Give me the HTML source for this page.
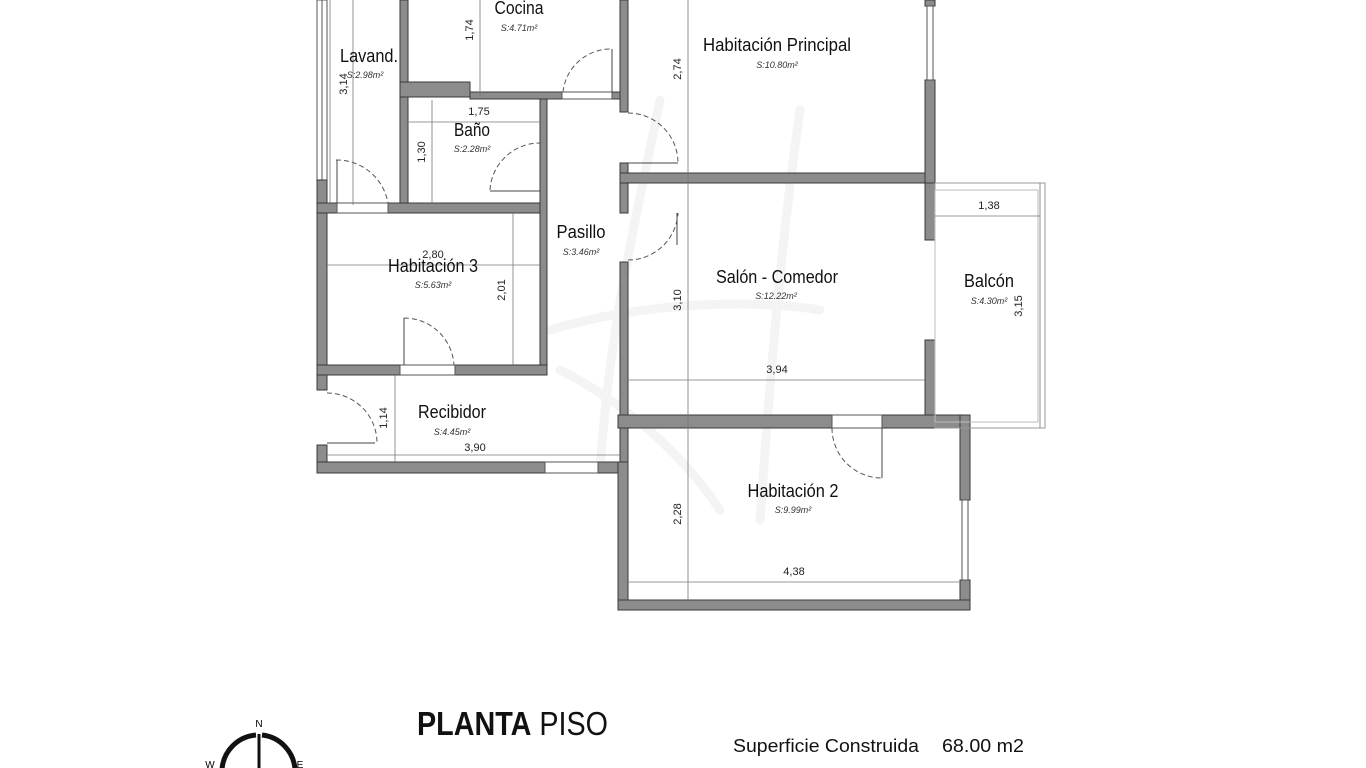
<!DOCTYPE html>
<html><head><meta charset="utf-8"><style>
html,body{margin:0;padding:0;background:#fff;width:1366px;height:768px;overflow:hidden}
svg{display:block}
.w{fill:#8c8c8c;stroke:#3a3a3a;stroke-width:1}
.rm{font-family:"Liberation Sans",sans-serif;font-size:18px;fill:#111;text-anchor:middle}
.ar{font-family:"Liberation Sans",sans-serif;font-size:9px;font-style:italic;fill:#333;text-anchor:middle}
.dm{font-family:"Liberation Sans",sans-serif;font-size:11px;fill:#222;text-anchor:middle}
.dl{stroke:#777;stroke-width:0.8;fill:none}
.dr{stroke:#555;stroke-width:1;fill:none;stroke-dasharray:5,3}
.wn{fill:#fff;stroke:#555;stroke-width:1}
</style></head><body>
<svg width="1366" height="768" viewBox="0 0 1366 768" xmlns="http://www.w3.org/2000/svg">
<g stroke="#f4f4f4" stroke-width="9" fill="none" stroke-linecap="round">
<path d="M660 100 C640 200 610 320 600 470"/>
<path d="M800 110 C780 250 770 380 760 520"/>
<path d="M550 330 C650 300 760 300 820 310"/>
<path d="M560 370 C620 400 680 450 720 510"/>
</g>
<rect class="wn" x="317" y="0" width="10" height="180"/>
<line x1="322" y1="0" x2="322" y2="180" stroke="#555"/>
<g class="w">
<rect x="317" y="180" width="10" height="210"/>
<rect x="317" y="445" width="10" height="28"/>
<rect x="317" y="462" width="228" height="11"/>
<rect x="598" y="462" width="30" height="11"/>
<rect x="400" y="0" width="8" height="205"/>
<rect x="400" y="82" width="70" height="15"/>
<rect x="470" y="92" width="92" height="7"/>
<rect x="612" y="92" width="16" height="7"/>
<rect x="317" y="203" width="20" height="10"/>
<rect x="388" y="203" width="159" height="10"/>
<rect x="540" y="99" width="7" height="276"/>
<rect x="317" y="365" width="83" height="10"/>
<rect x="455" y="365" width="92" height="10"/>
<rect x="620" y="0" width="8" height="112"/>
<rect x="620" y="163" width="8" height="50"/>
<rect x="620" y="262" width="8" height="211"/>
<rect x="620" y="173" width="315" height="10"/>
<rect x="925" y="80" width="10" height="103"/>
<rect x="925" y="0" width="10" height="6"/>
<rect x="925" y="183" width="10" height="57"/>
<rect x="925" y="340" width="10" height="88"/>
<rect x="618" y="415" width="214" height="13"/>
<rect x="882" y="415" width="88" height="13"/>
<rect x="960" y="415" width="10" height="85"/>
<rect x="960" y="580" width="10" height="30"/>
<rect x="618" y="462" width="10" height="148"/>
<rect x="618" y="600" width="352" height="10"/>
</g>
<rect class="wn" x="545" y="462" width="53" height="11"/>
<rect class="wn" x="927" y="6" width="6" height="74"/>
<rect class="wn" x="962" y="500" width="6" height="80"/>
<rect class="wn" x="337" y="203" width="51" height="10"/>
<rect class="wn" x="400" y="365" width="55" height="10"/>
<rect class="wn" x="832" y="415" width="50" height="13"/>
<rect class="wn" x="562" y="92" width="50" height="7"/>
<rect x="935" y="183" width="110" height="245" fill="none" stroke="#999"/>
<rect x="935" y="190" width="103" height="232" fill="none" stroke="#bbb"/>
<g class="dl">
<line x1="330" y1="0" x2="330" y2="205"/>
<line x1="353" y1="0" x2="353" y2="205"/>
<line x1="480" y1="0" x2="480" y2="96"/>
<line x1="405" y1="122" x2="540" y2="122"/>
<line x1="432" y1="100" x2="432" y2="203"/>
<line x1="327" y1="265" x2="540" y2="265"/>
<line x1="513" y1="213" x2="513" y2="365"/>
<line x1="395" y1="375" x2="395" y2="462"/>
<line x1="327" y1="455" x2="620" y2="455"/>
<line x1="688" y1="0" x2="688" y2="600"/>
<line x1="628" y1="380" x2="925" y2="380"/>
<line x1="935" y1="216" x2="1040" y2="216"/>
<line x1="1040" y1="183" x2="1040" y2="428"/>
<line x1="628" y1="582" x2="960" y2="582"/>
</g>
<g>
<path class="dr" d="M336 160 A52 52 0 0 1 388 203"/><line x1="337" y1="160" x2="337" y2="203" stroke="#444"/>
<path class="dr" d="M490 190 A50 50 0 0 1 540 143"/><line x1="490" y1="191" x2="540" y2="191" stroke="#444"/>
<path class="dr" d="M563 92 A48 48 0 0 1 612 49"/><line x1="612" y1="49" x2="612" y2="92" stroke="#444"/>
<path class="dr" d="M628 113 A50 50 0 0 1 678 163"/><line x1="628" y1="163" x2="678" y2="163" stroke="#444"/>
<path class="dr" d="M628 260 A50 50 0 0 0 678 213"/><line x1="677" y1="213" x2="677" y2="245" stroke="#444"/>
<path class="dr" d="M404 318 A50 50 0 0 1 454 365"/><line x1="404" y1="318" x2="404" y2="365" stroke="#444"/>
<path class="dr" d="M327 393 A50 50 0 0 1 377 443"/><line x1="327" y1="443" x2="375" y2="443" stroke="#444"/>
<path class="dr" d="M832 428 A50 50 0 0 0 882 478"/><line x1="882" y1="428" x2="882" y2="478" stroke="#444"/>
</g>
<text class="rm" x="519" y="14" textLength="49" lengthAdjust="spacingAndGlyphs">Cocina</text><text class="ar" x="519" y="31">S:4.71m²</text>
<text class="rm" x="369" y="62" textLength="58" lengthAdjust="spacingAndGlyphs">Lavand.</text><text class="ar" x="365" y="78">S:2.98m²</text>
<text class="rm" x="777" y="51" textLength="148" lengthAdjust="spacingAndGlyphs">Habitación Principal</text><text class="ar" x="777" y="68">S:10.80m²</text>
<text class="rm" x="472" y="136" textLength="36" lengthAdjust="spacingAndGlyphs">Baño</text><text class="ar" x="472" y="152">S:2.28m²</text>
<text class="rm" x="581" y="238" textLength="49" lengthAdjust="spacingAndGlyphs">Pasillo</text><text class="ar" x="581" y="255">S:3.46m²</text>
<text class="rm" x="433" y="272" textLength="90" lengthAdjust="spacingAndGlyphs">Habitación 3</text><text class="ar" x="433" y="288">S:5.63m²</text>
<text class="rm" x="777" y="283" textLength="122" lengthAdjust="spacingAndGlyphs">Salón - Comedor</text><text class="ar" x="776" y="299">S:12.22m²</text>
<text class="rm" x="989" y="287" textLength="50" lengthAdjust="spacingAndGlyphs">Balcón</text><text class="ar" x="989" y="304">S:4.30m²</text>
<text class="rm" x="452" y="418" textLength="68" lengthAdjust="spacingAndGlyphs">Recibidor</text><text class="ar" x="452" y="435">S:4.45m²</text>
<text class="rm" x="793" y="497" textLength="91" lengthAdjust="spacingAndGlyphs">Habitación 2</text><text class="ar" x="793" y="513">S:9.99m²</text>
<text class="dm" x="479" y="115">1,75</text>
<text class="dm" x="433" y="258">2,80</text>
<text class="dm" x="475" y="451">3,90</text>
<text class="dm" x="777" y="373">3,94</text>
<text class="dm" x="989" y="209">1,38</text>
<text class="dm" x="794" y="575">4,38</text>
<text class="dm" transform="translate(473,30) rotate(-90)">1,74</text>
<text class="dm" transform="translate(347,84) rotate(-90)">3,14</text>
<text class="dm" transform="translate(425,152) rotate(-90)">1,30</text>
<text class="dm" transform="translate(505,290) rotate(-90)">2,01</text>
<text class="dm" transform="translate(387,418) rotate(-90)">1,14</text>
<text class="dm" transform="translate(681,69) rotate(-90)">2,74</text>
<text class="dm" transform="translate(681,300) rotate(-90)">3,10</text>
<text class="dm" transform="translate(681,514) rotate(-90)">2,28</text>
<text class="dm" transform="translate(1022,306) rotate(-90)">3,15</text>
<text x="417" y="735" font-family="'Liberation Sans',sans-serif" font-size="33" fill="#111" textLength="191" lengthAdjust="spacingAndGlyphs"><tspan font-weight="bold">PLANTA</tspan> PISO</text>
<text x="733" y="752" font-family="'Liberation Sans',sans-serif" font-size="18" fill="#111" textLength="186" lengthAdjust="spacingAndGlyphs">Superficie Construida</text>
<text x="942" y="752" font-family="'Liberation Sans',sans-serif" font-size="18" fill="#111" textLength="82" lengthAdjust="spacingAndGlyphs">68.00 m2</text>
<text x="259" y="727" font-family="'Liberation Sans',sans-serif" font-size="10" text-anchor="middle">N</text>
<text x="210" y="768" font-family="'Liberation Sans',sans-serif" font-size="10" text-anchor="middle">W</text>
<text x="300" y="768" font-family="'Liberation Sans',sans-serif" font-size="10" text-anchor="middle">E</text>
<path d="M222 770 A37 37 0 0 1 256 735" stroke="#111" stroke-width="5" fill="none"/>
<path d="M262 735 A37 37 0 0 1 295 770" stroke="#111" stroke-width="5" fill="none"/>
<line x1="259" y1="734" x2="259" y2="768" stroke="#111" stroke-width="3"/>
</svg>
</body></html>
